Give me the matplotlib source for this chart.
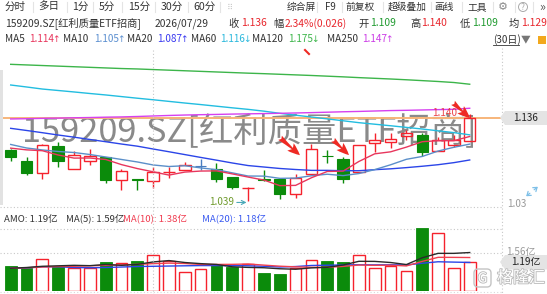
import matplotlib
matplotlib.use('Agg')
import matplotlib.pyplot as plt
from matplotlib.patches import Rectangle, FancyArrowPatch, Polygon, FancyBboxPatch, Circle
import matplotlib.patheffects as pe

plt.rcParams['font.family'] = ['Noto Sans CJK SC', 'DejaVu Sans']

# ---------------- data ----------------
opens = [1.0984, 1.0852, 1.0712, 1.1030, 1.0759, 1.0852, 1.0898, 1.0628, 1.0649, 1.0619,
         1.0724, 1.0750, 1.0797, 1.0759, 1.0665, 1.0535, 1.0640, 1.0642, 1.0471, 1.0704,
         1.0919, 1.0875, 1.0727, 1.1069, 1.1077, 1.1147, 1.1155, 1.0968, 1.1038, 1.1090]
highs = [1.0992, 1.0898, 1.1053, 1.1077, 1.0968, 1.0999, 1.0905, 1.0759, 1.0649, 1.0789,
         1.0789, 1.0844, 1.0882, 1.0836, 1.0665, 1.0556, 1.0756, 1.0642, 1.0704, 1.1053,
         1.0984, 1.0905, 1.1038, 1.1178, 1.1178, 1.1217, 1.1185, 1.1139, 1.1158, 1.1400]
lows = [1.0859, 1.0696, 1.0649, 1.0782, 1.0759, 1.0812, 1.0602, 1.0512, 1.0512, 1.0537,
        1.0657, 1.0750, 1.0756, 1.0611, 1.0532, 1.0390, 1.0622, 1.0416, 1.0424, 1.0704,
        1.0829, 1.0595, 1.0727, 1.0964, 1.1003, 1.1100, 1.0914, 1.0968, 1.1015, 1.1090]
closes = [1.0905, 1.0719, 1.1038, 1.0859, 1.0922, 1.0914, 1.0634, 1.0735, 1.0630, 1.0731,
          1.0727, 1.0805, 1.0797, 1.0642, 1.0556, 1.0541, 1.0630, 1.0471, 1.0657, 1.0999,
          1.0908, 1.0649, 1.1038, 1.1100, 1.1115, 1.1185, 1.0960, 1.1100, 1.1100, 1.1360]

ma5 = [1.1005, 1.0985, 1.0975, 1.0925, 1.0889, 1.0890, 1.0873, 1.0813, 1.0767, 1.0729,
       1.0691, 1.0726, 1.0738, 1.0740, 1.0705, 1.0668, 1.0633, 1.0568, 1.0571, 1.0660,
       1.0733, 1.0737, 1.0850, 1.0939, 1.0962, 1.1017, 1.1080, 1.1092, 1.1092, 1.1141]
ma10 = [1.1048, 1.1007, 1.0984, 1.0966, 1.0954, 1.0931, 1.0902, 1.0873, 1.0844, 1.0809,
        1.0791, 1.0800, 1.0775, 1.0754, 1.0717, 1.0680, 1.0679, 1.0653, 1.0656, 1.0683,
        1.0701, 1.0685, 1.0709, 1.0755, 1.0811, 1.0875, 1.0908, 1.0971, 1.1015, 1.1052]
ma20 = [1.1236, 1.1211, 1.1185, 1.1158, 1.1133, 1.1106, 1.1080, 1.1053, 1.1028, 1.0995,
        1.0963, 1.0930, 1.0897, 1.0865, 1.0832, 1.0802, 1.0785, 1.0768, 1.0756, 1.0746,
        1.0746, 1.0742, 1.0742, 1.0754, 1.0764, 1.0778, 1.0794, 1.0812, 1.0836, 1.0867]
ma60 = [1.1741, 1.1718, 1.1694, 1.1677, 1.1660, 1.1642, 1.1625, 1.1606, 1.1587, 1.1569,
        1.1550, 1.1531, 1.1513, 1.1494, 1.1475, 1.1457, 1.1436, 1.1411, 1.1389, 1.1368,
        1.1346, 1.1324, 1.1302, 1.1284, 1.1266, 1.1247, 1.1228, 1.1207, 1.1186, 1.1160]
ma120 = [1.1982, 1.1975, 1.1968, 1.1961, 1.1954, 1.1947, 1.1940, 1.1933, 1.1928, 1.1921,
         1.1914, 1.1907, 1.1900, 1.1893, 1.1886, 1.1879, 1.1873, 1.1866, 1.1859, 1.1852,
         1.1844, 1.1836, 1.1827, 1.1819, 1.1811, 1.1802, 1.1792, 1.1782, 1.1770, 1.1750]
ma250 = [1.1345, 1.1348, 1.1352, 1.1355, 1.1359, 1.1362, 1.1366, 1.1369, 1.1374, 1.1380,
         1.1386, 1.1391, 1.1395, 1.1398, 1.1402, 1.1405, 1.1408, 1.1411, 1.1415, 1.1419,
         1.1424, 1.1429, 1.1433, 1.1438, 1.1443, 1.1446, 1.1450, 1.1454, 1.1458, 1.1470]

# turnover (亿)
amount = [1.01, 0.94, 1.29, 1.02, 0.94, 0.94, 1.18, 1.12, 1.21, 1.45,
          1.22, 0.78, 0.89, 1.04, 0.97, 1.09, 0.71, 0.68, 0.94, 1.25,
          1.21, 1.18, 1.45, 0.92, 1.02, 0.79, 2.58, 2.36, 0.92, 1.19]
vma5 = [0.92, 0.95, 1.00, 1.02, 1.04, 1.026, 1.074, 1.04, 1.078, 1.18,
        1.236, 1.156, 1.11, 1.076, 0.98, 0.954, 0.94, 0.898, 0.878, 0.934,
        0.958, 1.052, 1.206, 1.202, 1.156, 1.072, 1.352, 1.534, 1.534, 1.568]
vma10 = [0.92, 0.94, 0.97, 0.99, 1.00, 1.02, 1.04, 1.06, 1.08, 1.11,
         1.131, 1.115, 1.075, 1.077, 1.08, 1.095, 1.048, 1.004, 0.977, 0.957,
         0.956, 0.996, 1.052, 1.04, 1.045, 1.015, 1.202, 1.37, 1.368, 1.362]
vma20 = [0.92, 0.93, 0.98, 0.98, 0.95, 0.94, 0.95, 0.97, 0.99, 1.00,
         1.01, 1.02, 1.03, 1.03, 1.03, 1.02, 1.00, 0.97, 0.99, 1.0335,
         1.0435, 1.0555, 1.0635, 1.0585, 1.0625, 1.055, 1.125, 1.187, 1.1725, 1.1595]
amo_header = [1.19, 1.59, 1.38, 1.18]
vol_grid = [1.56, 2.53]

tabs_left = ['分时', '多日', '1分', '5分', '15分', '30分', '60分']
tabs_right = ['综合屏', 'F9', '前复权', '超级叠加', '画线', '工具']
code_name = '159209.SZ[红利质量ETF招商]'
date_str = '2026/07/29'
prev_close = 1.110

# ---------------- figure ----------------
W, H = 547, 294
fig = plt.figure(figsize=(W / 100, H / 100), dpi=100)
fig.patch.set_facecolor('white')

def fy(py):
    return 1 - py / H

XL = (-0.676, 31.04)
ax = fig.add_axes([0, fy(207), 502 / W, (207 - 50) / H])
ax.set_xlim(*XL)
ax.set_ylim(1.0319, 1.2149)
ax.axis('off')

axv = fig.add_axes([0, fy(290.5), 502 / W, (290.5 - 207) / H])
axv.set_xlim(*XL)
axv.set_ylim(0, 3.449)
axv.axis('off')

ov = fig.add_axes([0, 0, 1, 1], zorder=10)
ov.set_xlim(0, W)
ov.set_ylim(H, 0)
ov.axis('off')

RED = '#f5222d'
GREEN = '#0b8b0b'
FLAT = '#4a7ec0'
DARK = '#333333'
FS = 7.2

# grid / frame lines
ov.plot([153.3, 153.3], [50, 294], ls=(0, (1, 2)), color='#c8c8c8', lw=0.8, zorder=0)
ov.plot([501.7, 501.7], [48, 294], ls=(0, (1, 2)), color='#c8c8c8', lw=0.8, zorder=0)
ov.plot([0, 502], [207, 207], ls=(0, (1, 2)), color='#c8c8c8', lw=0.8, zorder=0)
ov.plot([0, 502], [291.5, 291.5], ls=(0, (1, 2)), color='#d8d8d8', lw=0.8, zorder=0)
for v in vol_grid:
    axv.axhline(v, ls=(0, (1, 2)), color='#c8c8c8', lw=0.8, zorder=0)
ov.add_patch(Rectangle((0, 70), 2.5, 135, color='#e2e2e2', lw=0, zorder=0))

# watermark text
wm = ax.text(22, 141.7, code_name, transform=ov.transData, fontsize=25,
             color='#8a8a8a', ha='left', va='baseline', zorder=1)
fig.canvas.draw()
bb = wm.get_window_extent()
wm.set_fontsize(25 * (476 - 22) / bb.width)

# current price line
ax.axhline(closes[-1], color='#f7b57a', lw=1.4, zorder=1.5)

# MA lines
xs = list(range(len(closes)))
for arr, col in [(ma120, '#3cb54a'), (ma60, '#22bde0'), (ma250, '#d640f0'),
                 (ma20, '#2b45e8'), (ma10, '#5b8fc9'), (ma5, '#e8365d')]:
    ax.plot(xs, arr, color=col, lw=1.0, zorder=3)

# candles
bw = 0.72
for i, (o, h, l, c) in enumerate(zip(opens, highs, lows, closes)):
    if c > o:
        col = RED
    elif c < o:
        col = GREEN
    else:
        col = FLAT
    top, bot = max(o, c), min(o, c)
    ax.plot([i, i], [top, h], color=col, lw=1.0, zorder=2, solid_capstyle='butt')
    ax.plot([i, i], [l, bot], color=col, lw=1.0, zorder=2, solid_capstyle='butt')
    if c > o:
        ax.add_patch(Rectangle((i - bw / 2, bot), bw, top - bot, facecolor='none',
                               edgecolor=col, lw=1.0, zorder=2.5))
    else:
        ax.add_patch(Rectangle((i - bw / 2, bot), bw, max(top - bot, 0.0004), facecolor=col,
                               edgecolor=col, lw=0.8, zorder=2.5))

# high / low labels
ih = highs.index(max(highs))
ax.annotate(f'{max(highs):.3f}', xy=(ih - 0.1, max(highs)), xytext=(-8, 1),
            textcoords='offset points', ha='right', va='center', fontsize=FS,
            color='#e8262d', alpha=0.85,
            arrowprops=dict(arrowstyle='->', color='#5bb8c8', lw=0.8, shrinkA=0, shrinkB=0),
            zorder=4)
il = lows.index(min(lows))
ax.annotate(f'{min(lows):.3f}', xy=(il - 0.1, min(lows) - 0.0018), xytext=(-9, 0),
            textcoords='offset points', ha='right', va='center', fontsize=FS,
            color='#6f9a2c',
            arrowprops=dict(arrowstyle='->', color='#4aa8b8', lw=0.8, shrinkA=0, shrinkB=0),
            zorder=4)

# volume bars
vw = 0.74
for i, (a, o, c) in enumerate(zip(amount, opens, closes)):
    if c >= o:
        axv.add_patch(Rectangle((i - vw / 2, 0), vw, a, facecolor='none', edgecolor=RED,
                                lw=1.0, zorder=2))
    else:
        axv.add_patch(Rectangle((i - vw / 2, 0), vw, a, facecolor=GREEN, edgecolor=GREEN,
                                lw=0.6, zorder=2))
axv.plot(xs, vma20, color='#2b45e8', lw=1.0, zorder=3)
axv.plot(xs, vma10, color='#f04050', lw=1.0, zorder=3)
axv.plot(xs, vma5, color='#2a2a2a', lw=1.0, zorder=3)

# ---------------- header ----------------
tab_x = [5, 38, 72, 99, 128, 161, 193]
for t, x in zip(tabs_left, tab_x):
    ov.text(x, 7, t, fontsize=7.6, color=DARK, ha='left', va='center')
for x in [33, 67, 93, 122, 155, 188, 220]:
    ov.plot([x, x], [2, 12], color='#e4e4e4', lw=0.8)
ov.text(230, 7, '⠿', fontsize=6, color='#cccccc', ha='center', va='center')
tab_rx = [301, 330, 360, 407.5, 444, 477]
for t, x in zip(tabs_right, tab_rx):
    ov.text(x, 7, t, fontsize=7.0, color=DARK, ha='center', va='center')
for x in [317, 342, 383, 431, 462, 493, 515, 533]:
    ov.plot([x, x], [2, 12], color='#e4e4e4', lw=0.8)
ov.text(503, 7, '⚙', fontsize=8, color='#888888', ha='center', va='center')
ov.add_patch(Circle((523, 7), 4.5, facecolor='none', edgecolor='#aaaaaa', lw=0.7))
ov.text(523, 7, '?', fontsize=6, color='#aaaaaa', ha='center', va='center')
ov.text(542, 7, '»', fontsize=9, color='#555555', ha='center', va='center')

chg = closes[-1] - prev_close
row2 = [(code_name, 5, DARK), (date_str, 155, DARK), ('收', 228, DARK),
        (f'{closes[-1]:.3f}', 241, '#e8262d'), ('幅', 273, DARK),
        (f'{chg / prev_close * 100:.2f}%({chg:.3f})', 285, '#e8262d'), ('开', 358, DARK),
        (f'{opens[-1]:.3f}', 370, '#1f9a2f'), ('高', 410, DARK),
        (f'{highs[-1]:.3f}', 421, '#e8262d'), ('低', 460, DARK),
        (f'{lows[-1]:.3f}', 472, '#1f9a2f'), ('均', 509, DARK), ('1.129', 521, '#e8262d')]
for t, x, c in row2:
    ov.text(x, 23.5, t, fontsize=7.4, color=c, ha='left', va='center')

def arrow(a):
    return '↑' if a[-1] >= a[-2] else '↓'

row3 = [('MA5', 5, DARK), (ma5, 29, '#e8365d'),
        ('MA10', 63, DARK), (ma10, 94, '#5b8fd0'),
        ('MA20', 127, DARK), (ma20, 157, '#3a3af0'),
        ('MA60', 191, DARK), (ma60, 220, '#2ab8dc'),
        ('MA120', 252, DARK), (ma120, 288, '#3cb54a'),
        ('MA250', 327, DARK), (ma250, 362, '#cc3ce6')]
for t, x, c in row3:
    if isinstance(t, str):
        ov.text(x, 39.5, t, fontsize=FS, color=c, ha='left', va='center')
    else:
        ov.text(x, 39.5, f'{t[-1]:.3f}', fontsize=FS, color=c, ha='left', va='center')
        ov.text(x + 23.5, 39.5, arrow(t), fontsize=6.5, color=c, ha='left', va='center',
                family=['DejaVu Sans'])
ov.text(493, 39.5, '(30日)', fontsize=FS, color=DARK, ha='left', va='center')
ov.plot([493, 519], [45, 45], color=DARK, lw=0.6)
ov.text(526, 39, '▼', fontsize=7, color='#777777', ha='center', va='center')
ov.add_patch(Rectangle((538, 36), 8, 8, facecolor='#f2a81d', lw=0))

# volume header
vh = [(f'AMO: {amo_header[0]:.2f}亿', 4, DARK), (f'MA(5): {amo_header[1]:.2f}亿', 66, DARK),
      (f'MA(10): {amo_header[2]:.2f}亿', 123, '#f03c50'),
      (f'MA(20): {amo_header[3]:.2f}亿', 202, '#3a5af0')]
for t, x, c in vh:
    ov.text(x, 219.5, t, fontsize=6.9, color=c, ha='left', va='center')

# right axis labels
ov.add_patch(Polygon([(500, 117.7), (505, 111), (547, 111), (547, 125), (505, 125)],
                     closed=True, facecolor='#e4e4e4', edgecolor='none'))
ov.text(526, 118, f'{closes[-1]:.3f}', fontsize=FS, color='#222222', ha='center', va='center')
ov.text(507, 204, '1.03', fontsize=FS, color='#9a9a9a', ha='left', va='center')
for (x0, y0, x1, y1) in [(532, 191.5, 540, 185), (532, 191.5, 524, 198)]:
    ov.add_patch(FancyArrowPatch((x0, y0), (x1, y1), arrowstyle='->,head_length=2.5,head_width=1.8',
                                 color='#7ec0e8', lw=0.9, mutation_scale=1))
ov.text(506, 251.5, f'{vol_grid[0]:.2f}亿', fontsize=FS, color='#9a9a9a', ha='left', va='center')
ov.add_patch(Polygon([(500, 262), (505, 255), (547, 255), (547, 269.5), (505, 269.5)],
                     closed=True, facecolor='#e4e4e4', edgecolor='none'))
ov.text(526, 262.3, f'{amount[-1]:.2f}亿', fontsize=FS, color='#222222', ha='center', va='center')

# logo watermark
ov.add_patch(FancyBboxPatch((474, 269), 17, 18, boxstyle='round,pad=0,rounding_size=4',
                            facecolor='none', edgecolor='#c4c4c4', lw=1.0))
ov.text(482.5, 278.5, 'G', fontsize=10, color='white', ha='center', va='center',
        path_effects=[pe.Stroke(linewidth=1.3, foreground='#bdbdbd'), pe.Normal()])
ov.text(521, 278, '格隆汇', fontsize=11.5, color='white', ha='center', va='center',
        path_effects=[pe.Stroke(linewidth=1.3, foreground='#bdbdbd'), pe.Normal()])

# red annotation arrows
for (x0, y0, x1, y1) in [(278, 136, 302, 157), (331, 138, 351, 157), (451, 101, 472, 120)]:
    ov.add_patch(FancyArrowPatch((x0, y0), (x1, y1),
                                 arrowstyle='fancy,head_length=9,head_width=7,tail_width=4',
                                 mutation_scale=1, color='#ee2a24', lw=0, zorder=12))
ov.plot([305, 309], [50, 54], color='#ee2a24', lw=1.5)

fig.savefig('out.png', dpi=100, facecolor='white')
